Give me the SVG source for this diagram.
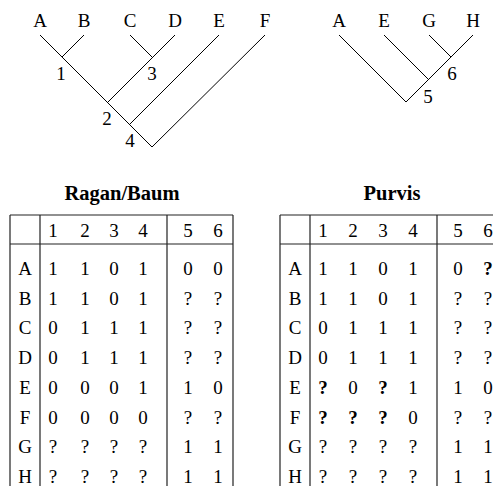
<svg xmlns="http://www.w3.org/2000/svg" width="493" height="486" viewBox="0 0 493 486" font-family="'Liberation Serif', Tinos, 'Times New Roman', 'DejaVu Serif', serif">
<style>
text{font-family:'Liberation Serif',Tinos,'Times New Roman','DejaVu Serif',serif;font-size:19px;fill:#000;text-anchor:middle}
.t{font-weight:bold;font-size:20.5px}
.b{font-weight:bold}
.e{stroke:#000;stroke-width:1;fill:none}
.g{stroke:#222;stroke-width:1.2;fill:none}
</style>
<rect width="493" height="486" fill="#fff"/>
<g id="connectors">
<path class="e" d="M40,35L152,147L265,35M84,35L62,57M130,35L152,57M175,35L108,102M219,35L130,124"/>
<path class="e" d="M339,35L406,102L473,35M384,35L429,80M429,35L451,57"/>
</g>
<g id="tree1">
<text x="40" y="27">A</text><text x="84" y="27">B</text><text x="130" y="27">C</text><text x="175" y="27">D</text><text x="219" y="27">E</text><text x="265" y="27">F</text>
<text x="61" y="80">1</text><text x="152" y="80">3</text><text x="107" y="125">2</text><text x="130" y="147">4</text>
</g>
<g id="tree2">
<text x="339" y="27">A</text><text x="384" y="27">E</text><text x="429" y="27">G</text><text x="473" y="27">H</text>
<text x="452" y="80">6</text><text x="428" y="103">5</text>
</g>
<g id="table1">
<text class="t" x="122" y="200">Ragan/Baum</text>
<path class="g" d="M10,215H233M10,244H233M10,215V486M40,215V486M167,215V486M233,215V486"/>
<g>
<text x="53" y="237">1</text><text x="85" y="237">2</text><text x="114" y="237">3</text><text x="143" y="237">4</text><text x="188" y="237">5</text><text x="218" y="237">6</text>
</g>
<g>
<text x="25" y="275">A</text><text x="53" y="275">1</text><text x="85" y="275">1</text><text x="114" y="275">0</text><text x="143" y="275">1</text><text x="188" y="275">0</text><text x="218" y="275">0</text>
<text x="25" y="304.7">B</text><text x="53" y="304.7">1</text><text x="85" y="304.7">1</text><text x="114" y="304.7">0</text><text x="143" y="304.7">1</text><text x="188" y="304.7">?</text><text x="218" y="304.7">?</text>
<text x="25" y="334.4">C</text><text x="53" y="334.4">0</text><text x="85" y="334.4">1</text><text x="114" y="334.4">1</text><text x="143" y="334.4">1</text><text x="188" y="334.4">?</text><text x="218" y="334.4">?</text>
<text x="25" y="364">D</text><text x="53" y="364">0</text><text x="85" y="364">1</text><text x="114" y="364">1</text><text x="143" y="364">1</text><text x="188" y="364">?</text><text x="218" y="364">?</text>
<text x="25" y="393.8">E</text><text x="53" y="393.8">0</text><text x="85" y="393.8">0</text><text x="114" y="393.8">0</text><text x="143" y="393.8">1</text><text x="188" y="393.8">1</text><text x="218" y="393.8">0</text>
<text x="25" y="423.5">F</text><text x="53" y="423.5">0</text><text x="85" y="423.5">0</text><text x="114" y="423.5">0</text><text x="143" y="423.5">0</text><text x="188" y="423.5">?</text><text x="218" y="423.5">?</text>
<text x="25" y="453.2">G</text><text x="53" y="453.2">?</text><text x="85" y="453.2">?</text><text x="114" y="453.2">?</text><text x="143" y="453.2">?</text><text x="188" y="453.2">1</text><text x="218" y="453.2">1</text>
<text x="25" y="483">H</text><text x="53" y="483">?</text><text x="85" y="483">?</text><text x="114" y="483">?</text><text x="143" y="483">?</text><text x="188" y="483">1</text><text x="218" y="483">1</text>
</g>
</g>
<g id="table2">
<text class="t" x="392" y="200">Purvis</text>
<path class="g" d="M280,215H503M280,244H503M280,215V486M310,215V486M437,215V486"/>
<g>
<text x="323" y="237">1</text><text x="353" y="237">2</text><text x="383" y="237">3</text><text x="413" y="237">4</text><text x="458" y="237">5</text><text x="488" y="237">6</text>
</g>
<g>
<text x="295" y="275">A</text><text x="323" y="275">1</text><text x="353" y="275">1</text><text x="383" y="275">0</text><text x="413" y="275">1</text><text x="458" y="275">0</text><text class="b" x="488" y="275">?</text>
<text x="295" y="304.7">B</text><text x="323" y="304.7">1</text><text x="353" y="304.7">1</text><text x="383" y="304.7">0</text><text x="413" y="304.7">1</text><text x="458" y="304.7">?</text><text x="488" y="304.7">?</text>
<text x="295" y="334.4">C</text><text x="323" y="334.4">0</text><text x="353" y="334.4">1</text><text x="383" y="334.4">1</text><text x="413" y="334.4">1</text><text x="458" y="334.4">?</text><text x="488" y="334.4">?</text>
<text x="295" y="364">D</text><text x="323" y="364">0</text><text x="353" y="364">1</text><text x="383" y="364">1</text><text x="413" y="364">1</text><text x="458" y="364">?</text><text x="488" y="364">?</text>
<text x="295" y="393.8">E</text><text class="b" x="323" y="393.8">?</text><text x="353" y="393.8">0</text><text class="b" x="383" y="393.8">?</text><text x="413" y="393.8">1</text><text x="458" y="393.8">1</text><text x="488" y="393.8">0</text>
<text x="295" y="423.5">F</text><text class="b" x="323" y="423.5">?</text><text class="b" x="353" y="423.5">?</text><text class="b" x="383" y="423.5">?</text><text x="413" y="423.5">0</text><text x="458" y="423.5">?</text><text x="488" y="423.5">?</text>
<text x="295" y="453.2">G</text><text x="323" y="453.2">?</text><text x="353" y="453.2">?</text><text x="383" y="453.2">?</text><text x="413" y="453.2">?</text><text x="458" y="453.2">1</text><text x="488" y="453.2">1</text>
<text x="295" y="483">H</text><text x="323" y="483">?</text><text x="353" y="483">?</text><text x="383" y="483">?</text><text x="413" y="483">?</text><text x="458" y="483">1</text><text x="488" y="483">1</text>
</g>
</g>
</svg>
